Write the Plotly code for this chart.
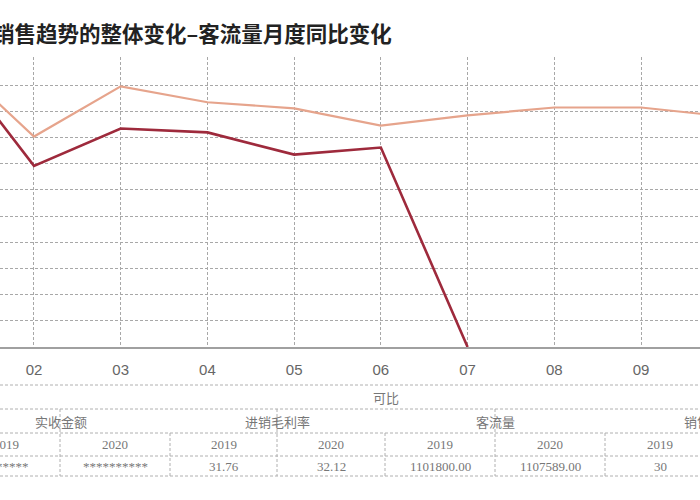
import plotly.graph_objects as go

# months on the x axis
months = ["01", "02", "03", "04", "05", "06", "07", "08", "09", "10"]

# year-on-year change of customer flow
flow_2019 = [11.5, -19.6, -0.4, -6.5, -8.8, -15.4, -11.5, -8.5, -8.5, -12.0]
flow_2020 = [12.3, -30.8, -16.5, -18.0, -26.5, -23.8, -100.0, None, None, None]

# table under the chart
table_title = "可比"
group_names = ["实收金额", "进销毛利率", "客流量", "销售数量"]
year_labels = ["2019", "2020", "2019", "2020", "2019", "2020", "2019", "2020"]
cell_values = ["*******", "**********", "31.76", "32.12",
               "1101800.00", "1107589.00", "30", ""]

title_text = "销售趋势的整体变化–客流量月度同比变化"

W, H = 700, 500


def px(x):
    return x / W


def py(y):
    return 1 - y / H


fig = go.Figure()

fig.add_trace(go.Scatter(x=months, y=flow_2019, mode="lines",
                         line=dict(color="#e6a48c", width=2.2),
                         name="2019"))
fig.add_trace(go.Scatter(x=months, y=flow_2020, mode="lines",
                         line=dict(color="#9e2a3c", width=2.6),
                         name="2020", connectgaps=False))

grid = "3px,2px"
fig.update_xaxes(type="category", categoryorder="array", categoryarray=months,
                 range=[0.608, 8.68], showgrid=True, gridcolor="#a8a8a8",
                 griddash=grid, gridwidth=1, showline=True, linecolor="#a0a0a0",
                 linewidth=1.5, ticks="", ticklabelstandoff=8,
                 tickfont=dict(family="Liberation Sans Narrow, Arial Narrow, sans-serif",
                               size=15, color="#666"),
                 zeroline=False, fixedrange=True)
fig.update_yaxes(domain=[py(347), py(57)], range=[-100, 10.8],
                 tickvals=[-90, -80, -70, -60, -50, -40, -30, -20, -10, 0],
                 showticklabels=False, showgrid=True, gridcolor="#a8a8a8",
                 griddash=grid, gridwidth=1, zeroline=False, showline=False,
                 fixedrange=True)

annotations = []
shapes = []

# title, first character cut by the left edge like the original crop
annotations.append(dict(x=px(-9), y=py(32), xref="paper", yref="paper",
                        xanchor="left", yanchor="middle", showarrow=False,
                        text="<b>" + title_text + "</b>",
                        font=dict(family="Noto Sans CJK SC", size=21.5, color="#222")))

# table layout
row_lines = [385, 409, 433, 456, 476]
edges = [-49, 60, 170, 277, 385, 495, 605, 715]
tfont = dict(family="Noto Sans CJK SC", size=13, color="#777")
nfont = dict(family="Liberation Serif, serif", size=13, color="#777")
dash = dict(color="#b0b0b0", width=1, dash="3px,2px")

for y in row_lines:
    shapes.append(dict(type="line", xref="paper", yref="paper",
                       x0=0, x1=1, y0=py(y), y1=py(y), line=dash))
for i, x in enumerate(edges):
    top = row_lines[1] if i % 2 == 1 else row_lines[2]
    shapes.append(dict(type="line", xref="paper", yref="paper",
                       x0=px(x), x1=px(x), y0=py(top), y1=py(row_lines[-1]),
                       line=dash))


def cell(x, y, text, font):
    annotations.append(dict(x=px(x), y=py(y), xref="paper", yref="paper",
                            xanchor="center", yanchor="middle",
                            showarrow=False, text=text, font=font))


cell(386, 397, table_title, tfont)
for g, name in enumerate(group_names):
    if 2 * g + 2 < len(edges):
        cx = (edges[2 * g] + edges[2 * g + 2]) / 2
    else:
        cx = edges[2 * g] + 105
    cell(cx, 421, name, tfont)
for c in range(len(year_labels)):
    if c + 1 < len(edges):
        cx = (edges[c] + edges[c + 1]) / 2
    else:
        cx = edges[c] + 55
    cell(cx, 444.5, year_labels[c], nfont)
    cell(cx, 466, cell_values[c], nfont)

fig.update_layout(width=W, height=H, margin=dict(l=0, r=0, t=0, b=0),
                  paper_bgcolor="white", plot_bgcolor="white",
                  showlegend=False, annotations=annotations, shapes=shapes)

# the page body has an 8px margin by default; drop it so the figure fills the window
fig.write_html("out.html", config={"displayModeBar": False},
               post_script="document.body.style.margin='0';")
